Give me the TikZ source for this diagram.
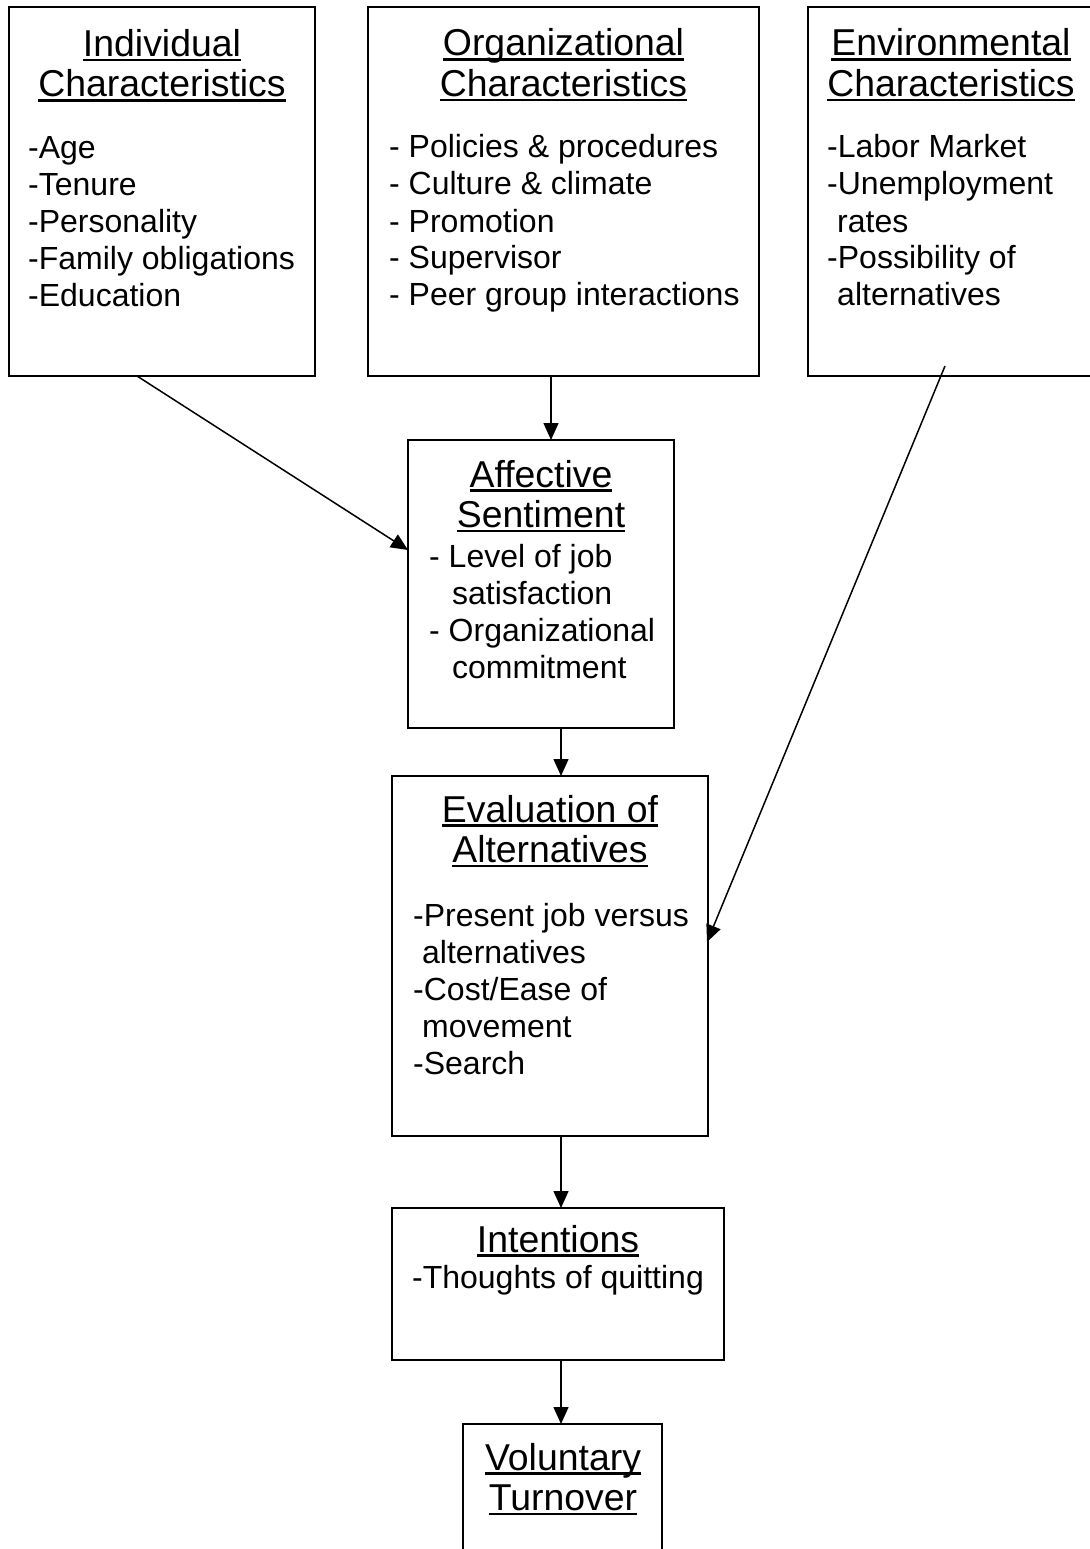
\documentclass[tikz,border=0pt]{standalone}
\usepackage{fontspec}
\setmainfont{Liberation Sans}
\usetikzlibrary{arrows.meta}
\newsavebox\ulbox
\newcommand\myul[1]{\sbox\ulbox{#1}\rlap{\usebox\ulbox}\rule[-4.6pt]{\wd\ulbox}{2.3pt}}
\newcommand\bodyfont{\fontsize{32pt}{37pt}\selectfont}
\newcommand\titlefont{\fontsize{37.4pt}{40.5pt}\selectfont}
\tikzset{
  box/.style={draw=black, line width=2pt, inner sep=0pt, outer sep=0pt, rectangle},
  ttl/.style={anchor=base, inner sep=0pt, font=\titlefont},
  bdy/.style={anchor=base west, inner sep=0pt, font=\bodyfont},
  bdyc/.style={anchor=base, inner sep=0pt, font=\bodyfont},
  arr/.style={line width=1.5pt, -{Triangle[length=17pt,width=15pt]}}
}
\begin{document}
\begin{tikzpicture}[x=1pt,y=-1pt]
\useasboundingbox (0,0) rectangle (1089,1549);
\fill[white] (0,0) rectangle (1089,1549);
% boxes
\node[box, minimum width=306pt, minimum height=369pt] (ind) at (162,191.5) {};
\node[box, minimum width=391pt, minimum height=369pt] (org) at (563.5,191.5) {};
\node[box, minimum width=286pt, minimum height=369pt] (env) at (951,191.5) {};
\node[box, minimum width=266pt, minimum height=288pt] (aff) at (541,584) {};
\node[box, minimum width=316pt, minimum height=360pt] (eva) at (550,956) {};
\node[box, minimum width=332pt, minimum height=152pt] (int) at (558,1284) {};
\node[box, minimum width=199pt, minimum height=146pt] (vol) at (562.5,1497) {};
% titles
\node[ttl] (indT) at (162,56.5) {\begin{tabular}[t]{@{}c@{}}\myul{Individual}\\\myul{Characteristics}\end{tabular}};
\node[ttl] (orgT) at (563.5,56) {\begin{tabular}[t]{@{}c@{}}\myul{Organizational}\\\myul{Characteristics}\end{tabular}};
\node[ttl] (envT) at (951,56) {\begin{tabular}[t]{@{}c@{}}\myul{Environmental}\\\myul{Characteristics}\end{tabular}};
\node[ttl] (affT) at (541,487) {\begin{tabular}[t]{@{}c@{}}\myul{Affective}\\\myul{Sentiment}\end{tabular}};
\node[ttl] (evaT) at (550,822) {\begin{tabular}[t]{@{}c@{}}\myul{Evaluation of}\\\myul{Alternatives}\end{tabular}};
\node[ttl] (intT) at (558,1252) {\myul{Intentions}};
\node[ttl] (volT) at (563,1470) {\begin{tabular}[t]{@{}c@{}}\myul{Voluntary}\\\myul{Turnover}\end{tabular}};
% bodies
\node[bdy] (indB) at (28,159) {\begin{tabular}[t]{@{}l@{}}-Age\\-Tenure\\-Personality\\-Family obligations\\-Education\end{tabular}};
\node[bdy] (orgB) at (389,158) {\begin{tabular}[t]{@{}l@{}}- Policies \& procedures\\- Culture \& climate\\- Promotion\\- Supervisor\\- Peer group interactions\end{tabular}};
\node[bdy] (envB) at (827,158) {\begin{tabular}[t]{@{}l@{}}-Labor Market\\-Unemployment\\\hspace*{10pt}rates\\-Possibility of\\\hspace*{10pt}alternatives\end{tabular}};
\node[bdy] (affB) at (429,567) {\begin{tabular}[t]{@{}l@{}}- Level of job\\\hspace*{23pt}satisfaction\\- Organizational\\\hspace*{23pt}commitment\end{tabular}};
\node[bdy] (evaB) at (413,926) {\begin{tabular}[t]{@{}l@{}}-Present job versus\\\hspace*{9pt}alternatives\\-Cost/Ease of\\\hspace*{9pt}movement\\-Search\end{tabular}};
\node[bdyc] (intB) at (558,1288) {-Thoughts of quitting};
% connector endpoints
\coordinate (c1) at (137,376);
\coordinate (c2) at (408,550);
\coordinate (c3) at (551,376);
\coordinate (c4) at (551,440);
\coordinate (c5) at (945,366);
\coordinate (c6) at (707,942);
\coordinate (c7) at (561,728);
\coordinate (c8) at (561,776);
\coordinate (c9) at (561,1136);
\coordinate (c10) at (561,1208);
\coordinate (c11) at (561,1360);
\coordinate (c12) at (561,1424);
\draw[arr] (c1) -- (c2);
\draw[arr] (c3) -- (c4);
\draw[arr] (c5) -- (c6);
\draw[arr] (c7) -- (c8);
\draw[arr] (c9) -- (c10);
\draw[arr] (c11) -- (c12);
\end{tikzpicture}
\end{document}
